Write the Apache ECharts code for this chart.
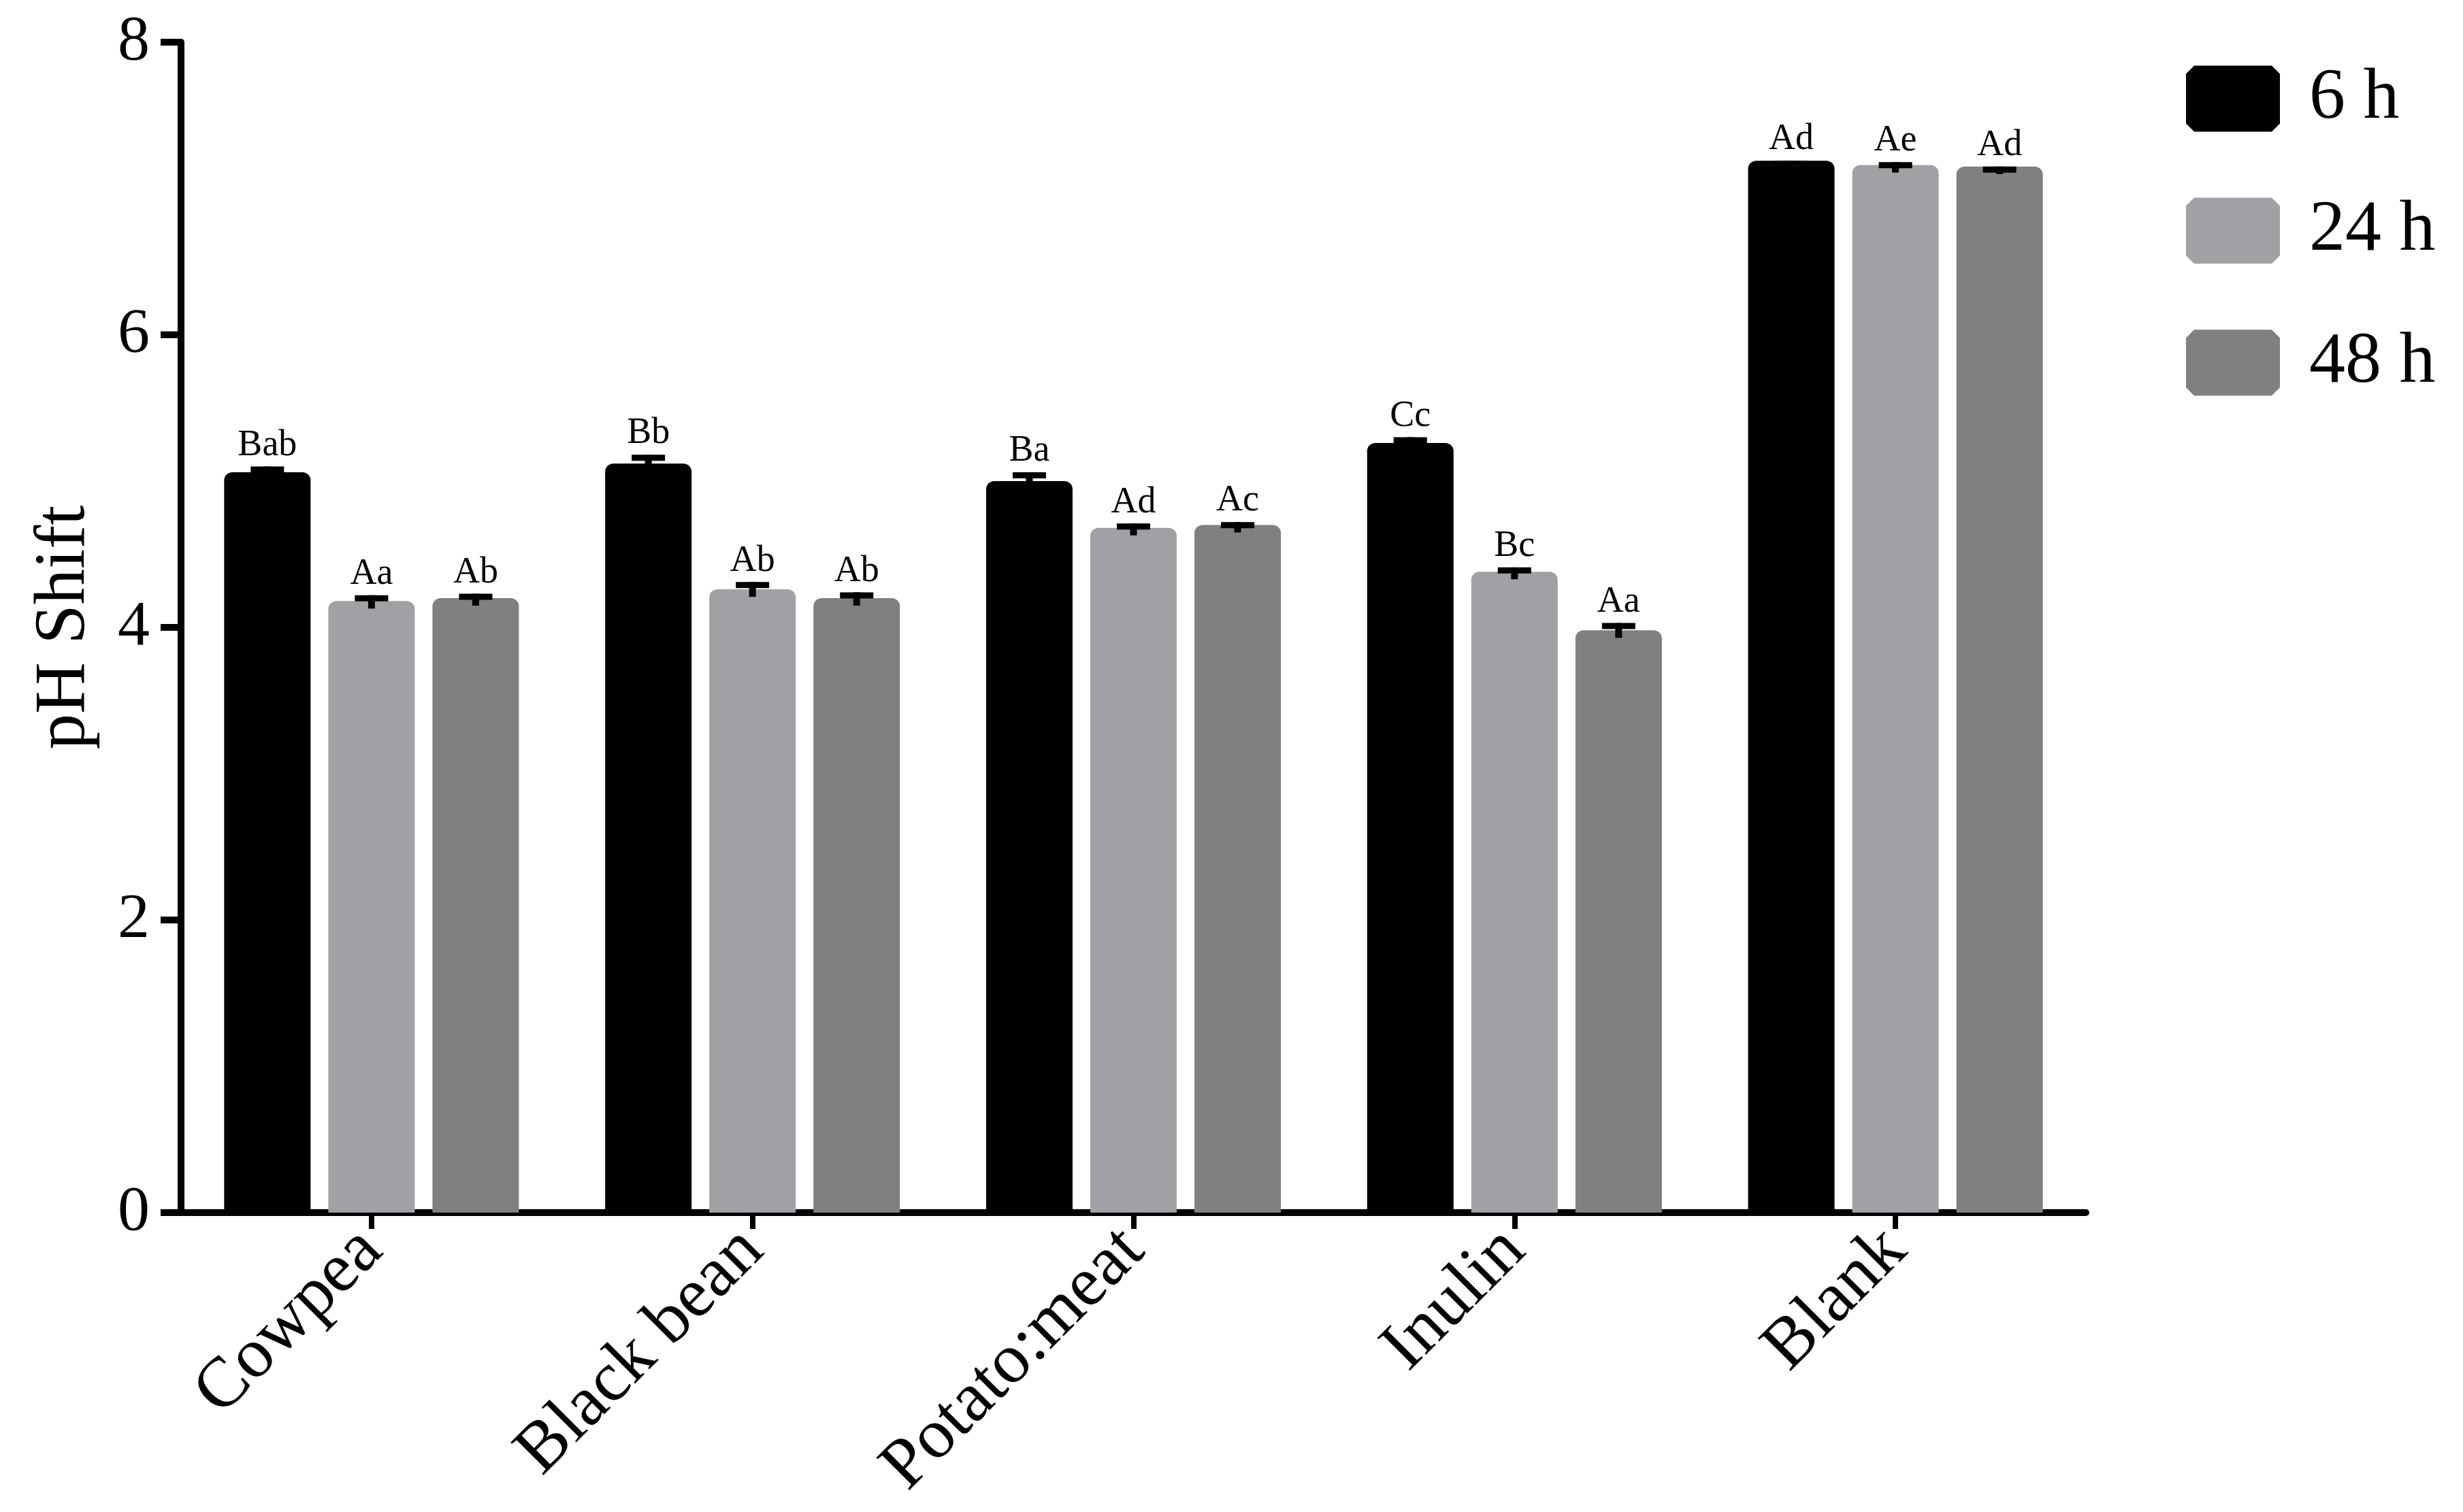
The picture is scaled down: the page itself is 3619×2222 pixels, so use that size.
<!DOCTYPE html>
<html>
<head>
<meta charset="utf-8">
<script src="https://cdn.jsdelivr.net/npm/echarts@6/dist/echarts.min.js"></script>
<style>
html,body{margin:0;padding:0;background:#fff;}
#chart{width:3619px;height:2222px;}
</style>
</head>
<body>
<div id="chart"></div>
<script>
const categories = ['Cowpea', 'Black bean', 'Potato:meat', 'Inulin', 'Blank'];
const seriesNames = ['6 h', '24 h', '48 h'];
const mean6h  = [5.06, 5.12, 5.00, 5.26, 7.19];
const mean24h = [4.18, 4.26, 4.68, 4.38, 7.16];
const mean48h = [4.20, 4.20, 4.70, 3.98, 7.15];
const err6h  = [0.04, 0.06, 0.06, 0.04, 0.00];
const err24h = [0.04, 0.05, 0.03, 0.03, 0.02];
const err48h = [0.03, 0.04, 0.02, 0.05, 0.00];
const letters6h  = ['Bab', 'Bb', 'Ba', 'Cc', 'Ad'];
const letters24h = ['Aa', 'Ab', 'Ad', 'Bc', 'Ae'];
const letters48h = ['Ab', 'Ab', 'Ac', 'Aa', 'Ad'];
const yMin = 0, yMax = 8, yInterval = 2;
const colors = ['#000000', '#A1A0A4', '#808080'];

const FONT = '"Liberation Serif", "Times New Roman", serif';
const BAR_W = 127;
const BAR_GAP = 0.205;

const means = [mean6h, mean24h, mean48h];
const errs = [err6h, err24h, err48h];
const letters = [letters6h, letters24h, letters48h];

const chart = echarts.init(document.getElementById('chart'), null, {renderer: 'canvas'});

const barSeries = seriesNames.map((name, k) => ({
  name: name,
  type: 'bar',
  data: means[k],
  barWidth: BAR_W,
  barGap: (BAR_GAP * 100) + '%',
  itemStyle: {color: colors[k], borderRadius: [12, 12, 0, 0]},
  z: 2
}));

const errSeries = seriesNames.map((name, k) => ({
  name: 'err_' + name,
  type: 'custom',
  z: 5,
  data: categories.map((c, i) => [i, means[k][i], errs[k][i], letters[k][i]]),
  encode: {x: 0, y: 1},
  renderItem: function (params, api) {
    const idx = api.value(0);
    const m = api.value(1);
    const e = api.value(2);
    const label = letters[k][params.dataIndex];
    const base = api.coord([idx, m]);
    const offset = (k - 1) * BAR_W * (1 + BAR_GAP);
    const x = base[0] + offset;
    const yTop = api.coord([idx, m + e])[1];
    const yLow = Math.max(api.coord([idx, m - e])[1], base[1] + 11);
    return {
      type: 'group',
      children: [
        {type: 'rect', shape: {x: x - 5, y: yTop, width: 10, height: yLow - yTop}, style: {fill: '#000'}},
        {type: 'rect', shape: {x: x - 24.5, y: yTop, width: 49, height: 9}, style: {fill: '#000'}},
        {type: 'text', x: x, y: yTop - 4, style: {
          text: label, fill: '#000', font: '54px ' + FONT,
          textAlign: 'center', textVerticalAlign: 'bottom'
        }}
      ]
    };
  }
}));

const option = {
  animation: false,
  backgroundColor: '#ffffff',
  grid: {left: 266, right: 554, top: 62, bottom: 440, containLabel: false},
  legend: {
    data: seriesNames,
    orient: 'vertical',
    left: 3207,
    top: 87,
    itemWidth: 138,
    itemHeight: 97,
    itemGap: 88,
    icon: 'path://M12,0 L126,0 L138,12 L138,85 L126,97 L12,97 L0,85 L0,12 Z',
    textStyle: {fontFamily: FONT, fontSize: 106, color: '#000', padding: [0, 0, 0, 38]}
  },
  xAxis: {
    type: 'category',
    data: categories,
    axisLine: {lineStyle: {color: '#000', width: 10}},
    axisTick: {show: true, alignWithLabel: true, length: 24, lineStyle: {color: '#000', width: 8}},
    axisLabel: {
      rotate: 45, margin: 40, color: '#000',
      fontFamily: FONT, fontSize: 104
    },
    splitLine: {show: false}
  },
  yAxis: {
    type: 'value',
    min: yMin, max: yMax, interval: yInterval,
    name: 'pH Shift',
    nameLocation: 'middle',
    nameGap: 118,
    nameTextStyle: {fontFamily: FONT, fontSize: 105, color: '#000'},
    axisLine: {show: true, lineStyle: {color: '#000', width: 10}},
    axisTick: {show: true, length: 30, lineStyle: {color: '#000', width: 10}},
    axisLabel: {margin: 46, color: '#000', fontFamily: FONT, fontSize: 94},
    splitLine: {show: false}
  },
  series: barSeries.concat(errSeries)
};
chart.setOption(option);
</script>
</body>
</html>
